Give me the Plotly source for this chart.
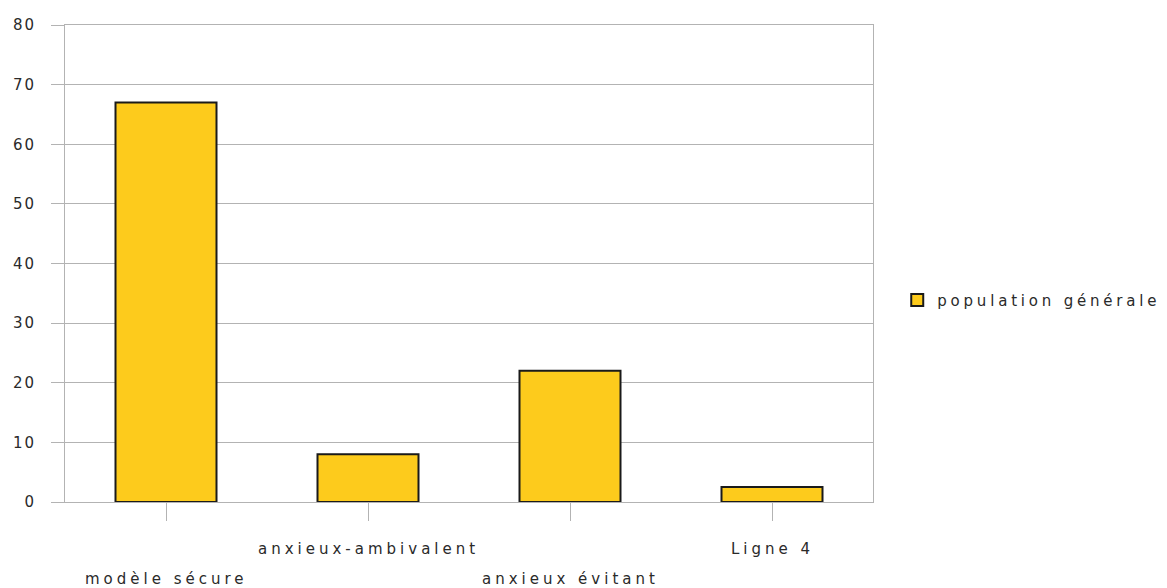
import plotly.graph_objects as go

categories = ["modèle sécure", "anxieux-ambivalent", "anxieux évitant", "Ligne 4"]
values = [67, 8, 22, 2.5]
series_name = "population générale"
y_ticks = [0, 10, 20, 30, 40, 50, 60, 70, 80]

FONT = "DejaVu Sans, Verdana, sans-serif"
TEXT = "#2a2a2a"
GRID = "#b3b3b3"
LABEL_SPACING = 4.0
LEGEND_SPACING = 3.8
TICK_SPACING = 2.0


def spaced(s, px):
    """Wrap a label in a span with extra letter spacing."""
    return f'<span style="letter-spacing:{px}px">{s}</span>'


fig = go.Figure()
fig.add_trace(go.Bar(
    x=categories,
    y=values,
    name=spaced(series_name, LEGEND_SPACING),
    width=0.5,
    marker=dict(color="#fdcb1c", line=dict(color="#1a1a1a", width=2)),
))

# staggered category labels below the axis
for i, cat in enumerate(categories):
    fig.add_annotation(
        x=cat, xref="x", y=0, yref="paper",
        text=spaced(cat, LABEL_SPACING), showarrow=False,
        yanchor="top", xanchor="center",
        yshift=-(36 if i % 2 else 66),
        font=dict(family=FONT, size=15, color=TEXT),
    )

fig.update_layout(
    width=1167, height=588,
    margin=dict(l=65, r=294, t=25, b=86, autoexpand=False),
    paper_bgcolor="white", plot_bgcolor="white",
    showlegend=True,
    legend=dict(
        x=1.03, y=0.423, xanchor="left", yanchor="middle",
        font=dict(family=FONT, size=15, color=TEXT),
        itemwidth=30,
    ),
    bargap=0.5,
    font=dict(family=FONT, size=15, color=TEXT),
)
fig.update_xaxes(
    showticklabels=False, ticks="outside", ticklen=18, tickcolor=GRID,
    showline=True, linecolor=GRID, linewidth=1, mirror=True,
    showgrid=False,
)
fig.update_yaxes(
    range=[0, 80], tickvals=y_ticks,
    ticktext=[spaced(str(v), TICK_SPACING) for v in y_ticks],
    ticks="outside", ticklen=13,
    tickcolor=GRID, showline=True, linecolor=GRID, linewidth=1, mirror=True,
    gridcolor=GRID, gridwidth=1, zeroline=False, ticklabelstandoff=12,
    tickfont=dict(family=FONT, size=15, color=TEXT),
)

fig.write_html("out.html")
